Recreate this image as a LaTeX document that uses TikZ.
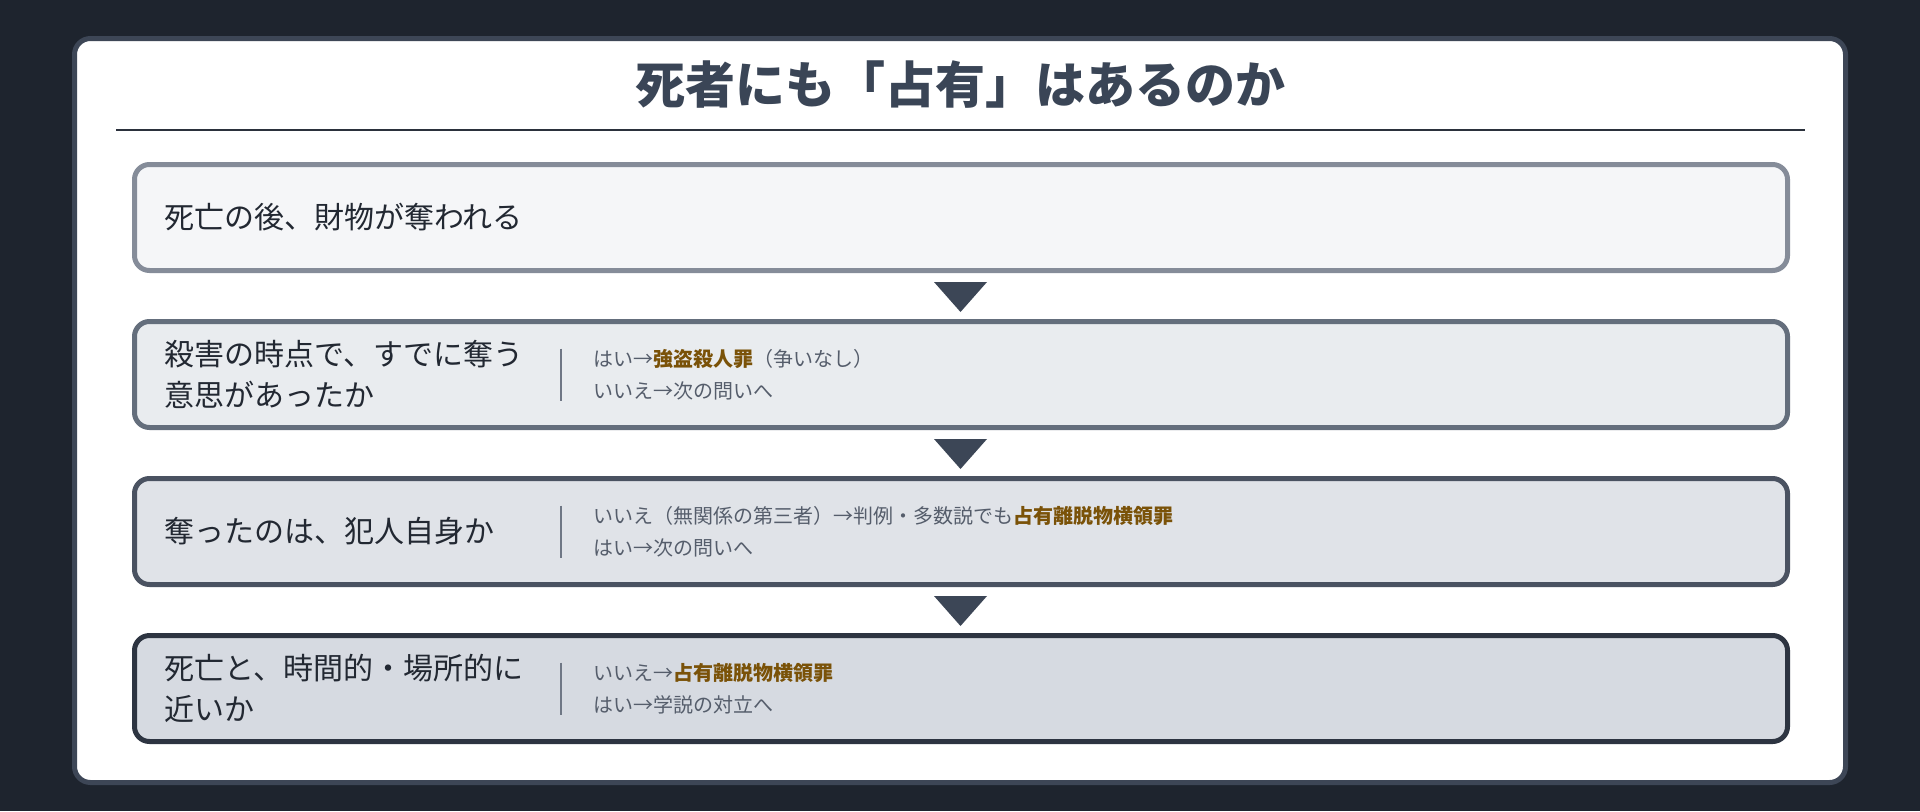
\documentclass[tikz,border=0pt]{standalone}
\usepackage{fontspec}
\setmainfont{Noto Sans CJK JP}
\usetikzlibrary{calc}
\definecolor{bgc}{RGB}{30,36,46}
\definecolor{cardedge}{RGB}{61,70,86}
\definecolor{titlec}{RGB}{58,69,86}
\definecolor{rulec}{RGB}{43,49,60}
\definecolor{fa}{RGB}{245,246,248}\definecolor{ea}{RGB}{133,140,153}
\definecolor{fb}{RGB}{233,236,239}\definecolor{eb}{RGB}{100,110,124}
\definecolor{fc}{RGB}{224,227,232}\definecolor{ec}{RGB}{74,82,97}
\definecolor{fd}{RGB}{214,218,225}\definecolor{ed}{RGB}{45,52,65}
\definecolor{tric}{RGB}{60,70,86}
\definecolor{qtextc}{RGB}{34,40,50}
\definecolor{atextc}{RGB}{85,93,107}
\definecolor{hlc}{RGB}{122,82,8}
\definecolor{sepc}{RGB}{111,119,133}
\newcommand\hlt[1]{\textbf{\textcolor{hlc}{#1}}}
\begin{document}
\begin{tikzpicture}[x=0.75pt,y=-0.75pt,
  stagebox/.style={draw, line width=3.75pt, rounded corners=11.25pt,
    minimum width=1239.75pt, minimum height=79.5pt, inner sep=0pt, anchor=west},
  qtext/.style={font=\fontsize{22.5pt}{30.75pt}\selectfont, text=qtextc,
    align=left, inner sep=0pt, anchor=west},
  atext/.style={font=\fontsize{15pt}{24pt}\selectfont, text=atextc,
    align=left, inner sep=0pt, anchor=west},
  sepline/.style={draw=sepc, line width=2.2pt},
  downtri/.style={fill=tric},
  titletext/.style={font=\fontsize{37.5pt}{45pt}\selectfont\bfseries, text=titlec, inner sep=0pt}
]
\useasboundingbox (0,0) rectangle (1920,811);
\fill[bgc] (0,0) rectangle (1920,811);
\draw[draw=cardedge, fill=white, line width=3.75pt, rounded corners=12pt] (74.5,38.5) rectangle (1845.5,782.5);

\node[titletext] (title) at (960,85) {死者にも「占有」はあるのか};
\coordinate (ruleL) at (116,130);
\coordinate (ruleR) at (1805,130);
\draw[rulec, line width=2.1pt] (ruleL) -- (ruleR);

\node[stagebox, draw=ea, fill=fa] (b1) at (132,217.5) {};
\node[stagebox, draw=eb, fill=fb] (b2) at (132,374.5) {};
\node[stagebox, draw=ec, fill=fc] (b3) at (132,531.5) {};
\node[stagebox, draw=ed, fill=fd] (b4) at (132,688.5) {};

\foreach \a/\b in {b1/b2,b2/b3,b3/b4}{
  \fill[downtri] ($(\a.south)+(-27,9)$) -- ($(\a.south)+(26,9)$) -- ($(\a.south)+(-0.5,39)$) -- cycle;
}

\node[qtext] (q1) at (164,217.5) {死亡の後、財物が奪われる};
\node[qtext] (q2) at (164,374.5) {殺害の時点で、すでに奪う\\意思があったか};
\node[qtext] (q3) at (164,531.5) {奪ったのは、犯人自身か};
\node[qtext] (q4) at (164,688.5) {死亡と、時間的・場所的に\\近いか};

\foreach \b in {b2,b3,b4}{
  \draw[sepline] ($(\b.west)+(429,-26)$) -- ($(\b.west)+(429,26)$);
}

\node[atext] (a2) at (593,374.5) {はい→\hlt{強盗殺人罪}（争いなし）\\いいえ→次の問いへ};
\node[atext] (a3) at (593,531.5) {いいえ（無関係の第三者）→判例・多数説でも\hlt{占有離脱物横領罪}\\はい→次の問いへ};
\node[atext] (a4) at (593,688.5) {いいえ→\hlt{占有離脱物横領罪}\\はい→学説の対立へ};
\end{tikzpicture}
\end{document}
